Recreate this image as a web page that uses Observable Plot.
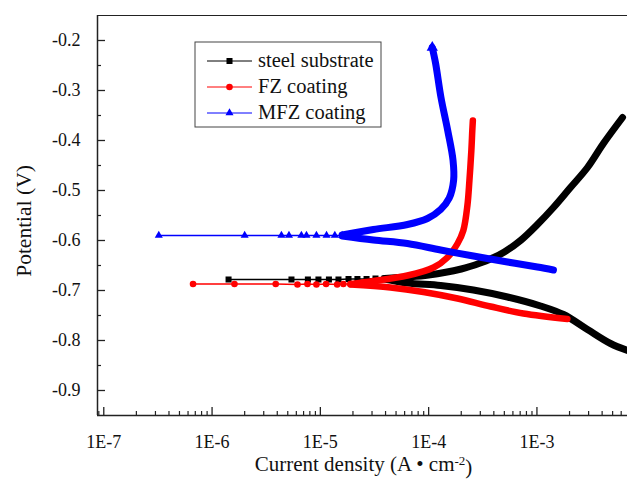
<!DOCTYPE html>
<html><head><meta charset="utf-8">
<script src="https://cdn.jsdelivr.net/npm/d3@7"></script>
<script src="https://cdn.jsdelivr.net/npm/@observablehq/plot@0.6"></script>
<style>
html,body{margin:0;padding:0;background:#fff;overflow:hidden;}
</style></head><body><div id="chart"></div>
<script>
// ---- series meta ----
const seriesNames = ["steel substrate", "FZ coating", "MFZ coating"];
const seriesColors = ["#000000", "#ff0000", "#0000ff"];
const seriesSymbols = ["square", "circle", "triangle"];

// ---- data: [current density (A/cm2), potential (V)] ----
// sparse measured points near the corrosion potential (drawn with markers)
const steelMarkers = [[1.42e-6,-0.678],[5.41e-6,-0.678],[7.67e-6,-0.678],[9.6e-6,-0.678],[1.2e-5,-0.678],[1.47e-5,-0.678],[1.82e-5,-0.677],[2.2e-5,-0.677],[2.67e-5,-0.677],[3.23e-5,-0.676],[3.91e-5,-0.676]];
const steelAnodic = [[3.91e-5,-0.676],[1.0e-4,-0.669],[2.0e-4,-0.657],[3.0e-4,-0.645],[4.0e-4,-0.634],[5.0e-4,-0.623],[7.05e-4,-0.600],[1.01e-3,-0.568],[1.42e-3,-0.534],[2.04e-3,-0.494],[2.93e-3,-0.454],[4.11e-3,-0.406],[6.17e-3,-0.354]];
const steelCathodic = [[3.91e-5,-0.677],[6.37e-5,-0.685],[1.29e-4,-0.690],[2.59e-4,-0.699],[5.35e-4,-0.713],[1.08e-3,-0.731],[1.76e-3,-0.748],[2.93e-3,-0.778],[4.78e-3,-0.806],[7.3e-3,-0.822]];

const fzMarkers = [[6.67e-7,-0.687],[1.61e-6,-0.687],[3.87e-6,-0.687],[6.15e-6,-0.688],[7.6e-6,-0.687],[9.2e-6,-0.688],[1.13e-5,-0.687],[1.43e-5,-0.688],[1.63e-5,-0.687],[1.9e-5,-0.687]];
const fzAnodic = [[1.9e-5,-0.687],[3.09e-5,-0.681],[6.37e-5,-0.670],[1.11e-4,-0.654],[1.49e-4,-0.634],[1.85e-4,-0.606],[2.09e-4,-0.580],[2.28e-4,-0.530],[2.38e-4,-0.480],[2.48e-4,-0.420],[2.53e-4,-0.380],[2.56e-4,-0.360]];
const fzCathodic = [[1.9e-5,-0.688],[4.44e-5,-0.694],[8.95e-5,-0.703],[1.85e-4,-0.716],[3.73e-4,-0.732],[7.5e-4,-0.746],[1.91e-3,-0.757]];

const mfzMarkers = [[3.22e-7,-0.590],[2.0e-6,-0.590],[4.37e-6,-0.590],[5.13e-6,-0.590],[6.68e-6,-0.590],[7.44e-6,-0.590],[9.2e-6,-0.590],[1.14e-5,-0.590],[1.36e-5,-0.590],[1.59e-5,-0.590],[1.9e-5,-0.590]];
const mfzAnodic = [[1.59e-5,-0.589],[3.09e-5,-0.578],[6.37e-5,-0.568],[9.75e-5,-0.556],[1.29e-4,-0.538],[1.55e-4,-0.515],[1.70e-4,-0.480],[1.68e-4,-0.440],[1.50e-4,-0.380],[1.30e-4,-0.314],[1.16e-4,-0.246],[1.08e-4,-0.214]];
const mfzCathodic = [[1.59e-5,-0.591],[3.09e-5,-0.599],[6.37e-5,-0.606],[1.29e-4,-0.619],[2.59e-4,-0.631],[5.35e-4,-0.643],[1.01e-3,-0.653],[1.42e-3,-0.659]];

// ---- axes ----
const xDomain = [8.75e-8, 6.86e-3];
const yDomain = [-0.95, -0.15];
const xTickValues = [1e-7, 1e-6, 1e-5, 1e-4, 1e-3];
const xTickLabels = ["1E-7", "1E-6", "1E-5", "1E-4", "1E-3"];
const yTickValues = [-0.2, -0.3, -0.4, -0.5, -0.6, -0.7, -0.8, -0.9];
const yTickLabels = ["-0.2", "-0.3", "-0.4", "-0.5", "-0.6", "-0.7", "-0.8", "-0.9"];
const yMinorTicks = [-0.25, -0.35, -0.45, -0.55, -0.65, -0.75, -0.85];
const minorMultipliers = [2, 3, 4, 5, 6, 7, 8, 9];
const xTitle = "Current density (A \u2022 cm-2)";
const yTitle = "Potential (V)";

const xMinorTicks = [];
for (const dec of [1e-8, 1e-7, 1e-6, 1e-5, 1e-4, 1e-3]) for (const m of minorMultipliers) {
  const v = m * dec; if (v > xDomain[0] && v < xDomain[1]) xMinorTicks.push(v);
}

const W = 627, H = 484, mL = 97, mR = 0, mT = 15, mB = 69;
const plotW = W - mL - mR, plotH = H - mT - mB;
const font = "'Liberation Serif', 'Times New Roman', serif";
const axisColor = "#222";

const series = [
  {markers: steelMarkers, anodic: steelAnodic, cathodic: steelCathodic, sw: 7},
  {markers: fzMarkers, anodic: fzAnodic, cathodic: fzCathodic, sw: 6.5},
  {markers: mfzMarkers, anodic: mfzAnodic, cathodic: mfzCathodic, sw: 7}
];
const markerR = [3.4, 3.3, 3.0];

const marks = [];
series.forEach((s, i) => {
  const c = seriesColors[i];
  marks.push(Plot.line(s.markers, {x: d => d[0], y: d => d[1], stroke: c, strokeWidth: 1.4}));
  for (const br of [s.cathodic, s.anodic]) {
    marks.push(Plot.line(br, {x: d => d[0], y: d => d[1], stroke: c, strokeWidth: s.sw, strokeLinecap: "round", strokeLinejoin: "round", curve: "catmull-rom"}));
  }
  marks.push(Plot.dot(s.markers, {x: d => d[0], y: d => d[1], fill: c, stroke: "none", symbol: seriesSymbols[i], r: markerR[i]}));
});
// pointed tip at the end of MFZ anodic branch
marks.push(Plot.dot(mfzAnodic.slice(-1), {x: d => d[0], y: d => d[1], fill: seriesColors[2], symbol: "triangle", r: 4.2}));

// frame (left, bottom, top)
marks.push(Plot.ruleX([xDomain[0]], {stroke: axisColor, strokeWidth: 1.5}));
marks.push(Plot.ruleY([yDomain[0]], {stroke: axisColor, strokeWidth: 1.5}));
marks.push(Plot.ruleY([yDomain[1]], {stroke: axisColor, strokeWidth: 1.2}));
// inward ticks
marks.push(Plot.tickX(xTickValues, {x: d => d, insetTop: plotH - 8, stroke: axisColor, strokeWidth: 1.3}));
marks.push(Plot.tickX(xMinorTicks, {x: d => d, insetTop: plotH - 4, stroke: axisColor, strokeWidth: 1.2}));
marks.push(Plot.tickY(yTickValues, {y: d => d, insetRight: plotW - 8, stroke: axisColor, strokeWidth: 1.3}));
marks.push(Plot.tickY(yMinorTicks, {y: d => d, insetRight: plotW - 4, stroke: axisColor, strokeWidth: 1.2}));
// tick labels
marks.push(Plot.text(xTickValues, {x: d => d, frameAnchor: "bottom", lineAnchor: "bottom", dy: 32, text: (d, i) => xTickLabels[i], fontSize: 18, fill: "#111"}));
marks.push(Plot.text(yTickValues, {y: d => d, frameAnchor: "left", textAnchor: "end", dx: -17, text: (d, i) => yTickLabels[i], fontSize: 18, fill: "#111"}));
// x axis title
marks.push(Plot.text([xTitle], {frameAnchor: "bottom", lineAnchor: "bottom", textAnchor: "middle", dy: 55, dx: 1, fontSize: 21, fill: "#111"}));

const chart = Plot.plot({
  width: W, height: H,
  marginLeft: mL, marginRight: mR, marginTop: mT, marginBottom: mB,
  style: {fontFamily: font, background: "#fff", overflow: "visible"},
  x: {type: "log", domain: xDomain, axis: null},
  y: {domain: yDomain, axis: null},
  marks
});
document.getElementById("chart").appendChild(chart);

const svg = d3.select(chart);
// superscript in the x title
svg.selectAll("text").each(function () {
  if (this.textContent === xTitle) {
    const t = d3.select(this);
    t.text(null);
    t.append("tspan").text("Current density (A \u2022 cm");
    t.append("tspan").attr("dy", "-0.45em").attr("font-size", "0.62em").text("-2");
    t.append("tspan").attr("dy", "0.45em").text(")");
  }
});

// y axis title (rotated), centred on the plot's vertical middle
svg.append("text")
  .attr("transform", `translate(31,${mT + plotH / 2 + 6}) rotate(-90)`)
  .attr("text-anchor", "middle").attr("font-family", font).attr("font-size", "21.5px")
  .attr("fill", "#111").text(yTitle);

// legend box
const lg = svg.append("g").attr("font-family", font).attr("text-anchor", "start");
lg.append("rect").attr("x", 195).attr("y", 42).attr("width", 186).attr("height", 85)
  .attr("fill", "#fff").attr("stroke", "#444").attr("stroke-width", 1);
const symMap = {square: d3.symbolSquare, circle: d3.symbolCircle, triangle: d3.symbolTriangle};
seriesNames.forEach((name, i) => {
  const y = 61 + i * 26;
  lg.append("line").attr("x1", 207).attr("x2", 252).attr("y1", y).attr("y2", y)
    .attr("stroke", seriesColors[i]).attr("stroke-width", 1);
  lg.append("path").attr("transform", `translate(229.5,${y})`)
    .attr("d", d3.symbol(symMap[seriesSymbols[i]], Math.PI * markerR[i] * markerR[i])())
    .attr("fill", seriesColors[i]);
  lg.append("text").attr("x", 258).attr("y", y + 5.5).attr("font-size", "20.5px")
    .attr("text-anchor", "start").attr("fill", "#111").text(name);
});
</script>
</body></html>
